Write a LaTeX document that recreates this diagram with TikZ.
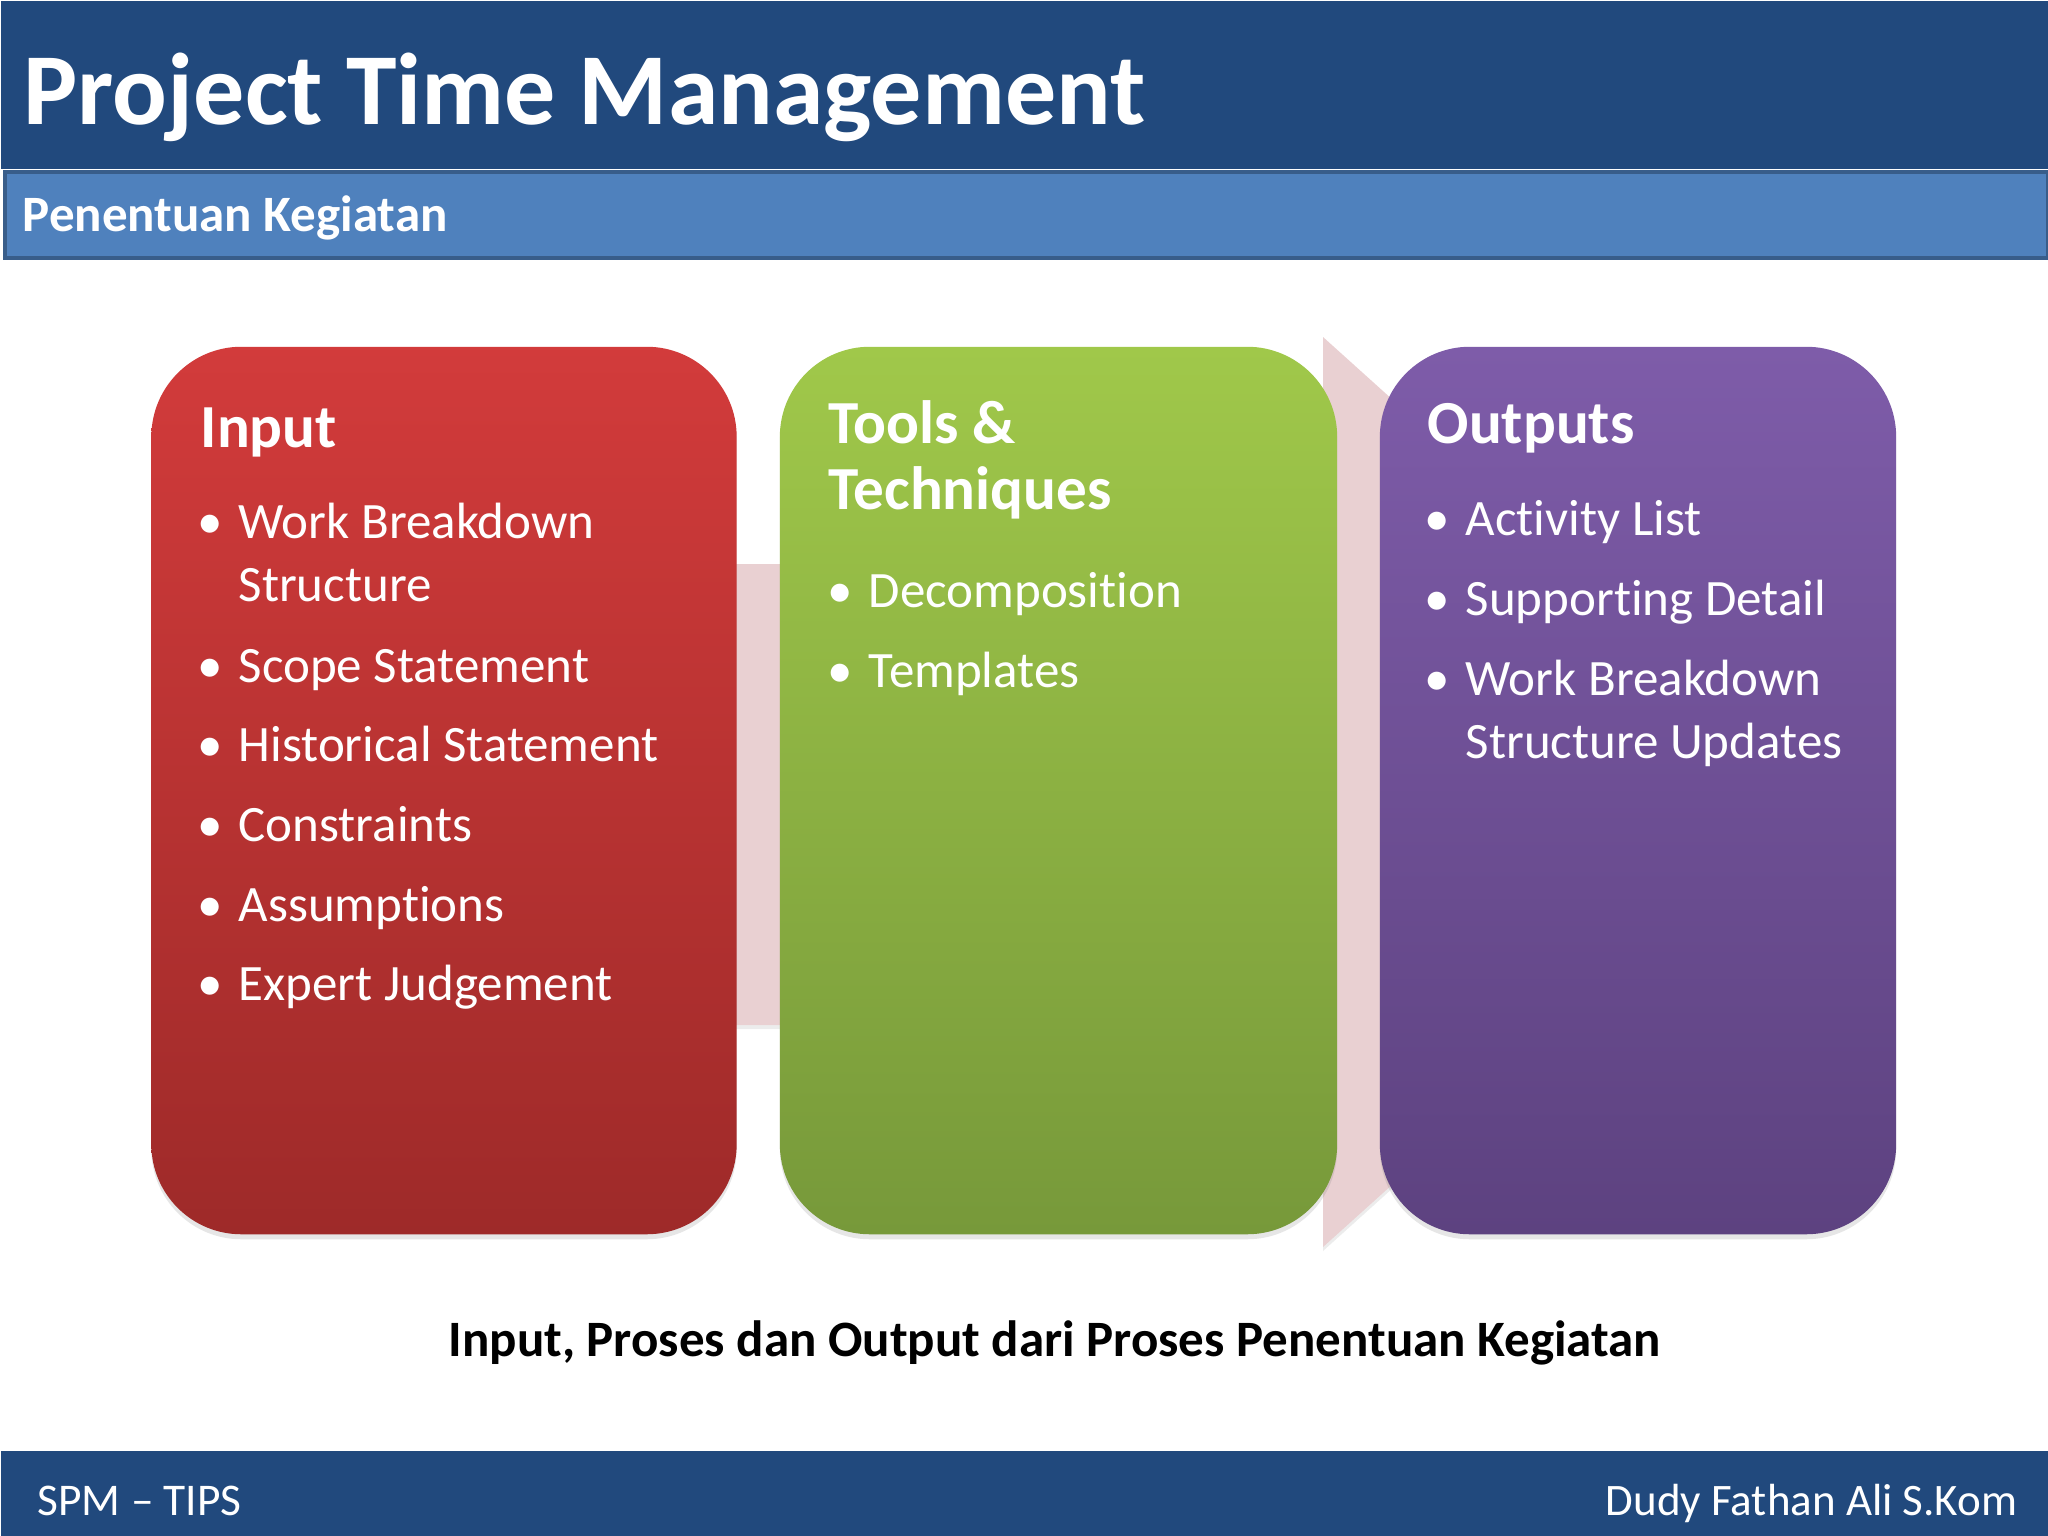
\documentclass[tikz,border=0pt]{standalone}
\usepackage{fontspec}
\setmainfont{Carlito}[Ligatures=NoCommon]
\usepackage{xcolor}
\usepackage{tikz}
\usetikzlibrary{positioning,shadows}

\definecolor{barblue}{RGB}{33,73,125}
\definecolor{subblue}{RGB}{79,129,189}
\definecolor{subedge}{RGB}{56,93,138}
\definecolor{redtop}{RGB}{210,59,59}
\definecolor{redbot}{RGB}{158,42,41}
\definecolor{greentop}{RGB}{160,200,74}
\definecolor{greenbot}{RGB}{119,153,58}
\definecolor{purptop}{RGB}{126,92,169}
\definecolor{purpbot}{RGB}{93,66,128}
\definecolor{arrowpink}{RGB}{233,208,210}

\newcommand{\bul}{\llap{\textbullet\hspace{0.16cm}}}

\begin{document}
\begin{tikzpicture}[
    x=0.01cm, y=-0.01cm,
    bar/.style={rectangle, anchor=north west, inner sep=0pt, minimum width=20.48cm},
    panel/.style={rectangle, rounded corners=0.9cm, minimum height=8.87cm, inner sep=0pt,
        drop shadow={shadow xshift=0cm, shadow yshift=-0.05cm, opacity=0.2}},
    head/.style={anchor=base west, inner sep=0pt, align=left, text=white,
        font=\fontsize{17.4}{18.5}\selectfont\bfseries},
    item/.style={anchor=base west, inner sep=0pt, align=left, text=white,
        font=\fontsize{14.5}{17.9}\selectfont}
]
\useasboundingbox (0,0) rectangle (2048,1536);

% top bars
\node[bar, fill=barblue, minimum height=1.68cm] (titlebar) at (0,0) {};
\node[bar, fill=subblue, draw=subedge, line width=0.035cm, minimum width=20.42cm,
    minimum height=0.86cm] (subbar) at (3,170) {};
\node[anchor=base west, inner sep=0pt, text=white,
    font=\fontsize{29}{30}\selectfont\bfseries] (title) at (23,124) {Project Time Management};
\node[anchor=base west, inner sep=0pt, text=white,
    font=\fontsize{14.5}{16}\selectfont\bfseries] (subtitle) at (22,231) {Penentuan Kegiatan};

% arrow behind the panels
\fill[arrowpink, drop shadow={shadow xshift=0cm, shadow yshift=-0.04cm, opacity=0.15}]
    (620,564) -- (1323,564) -- (1323,337) -- (1828,792) -- (1323,1247)
    -- (1323,1025) -- (620,1025) -- cycle;

% panels
\node[panel, top color=redtop, bottom color=redbot, minimum width=5.85cm] (inbox) at (444,790.5) {};
\node[panel, top color=greentop, bottom color=greenbot, minimum width=5.57cm] (toolbox) at (1058.5,790.5) {};
\node[panel, top color=purptop, bottom color=purpbot, minimum width=5.16cm] (outbox) at (1638,790.5) {};

% input (base = last line)
\node[head] (inhead) at (200,447) {Input};
\node[item] (in1) at (238,601) {\bul Work Breakdown\\Structure};
\node[item] (in2) at (238,682) {\bul Scope Statement};
\node[item] (in3) at (238,761) {\bul Historical Statement};
\node[item] (in4) at (238,841) {\bul Constraints};
\node[item] (in5) at (238,921) {\bul Assumptions};
\node[item] (in6) at (238,1000) {\bul Expert Judgement};

% tools
\node[head] (toolhead) at (828,509) {Tools \&\\Techniques};
\node[item] (tool1) at (868,607) {\bul Decomposition};
\node[item] (tool2) at (868,687) {\bul Templates};

% outputs
\node[head] (outhead) at (1427,443) {Outputs};
\node[item] (out1) at (1465,535) {\bul Activity List};
\node[item] (out2) at (1465,615) {\bul Supporting Detail};
\node[item] (out3) at (1465,758) {\bul Work Breakdown\\Structure Updates};

% caption
\node[anchor=base west, inner sep=0pt, font=\fontsize{14.5}{16}\selectfont\bfseries]
    (caption) at (448,1356) {Input, Proses dan Output dari Proses Penentuan Kegiatan};

% footer
\node[bar, fill=barblue, minimum height=0.86cm] (footbar) at (0,1450) {};
\node[anchor=base west, inner sep=0pt, text=white, font=\fontsize{12.9}{15}\selectfont]
    (footl) at (37,1515) {SPM -- TIPS};
\node[anchor=base east, inner sep=0pt, text=white, font=\fontsize{12.8}{15}\selectfont]
    (footr) at (2018,1515) {Dudy Fathan Ali S.Kom};
\end{tikzpicture}
\end{document}
